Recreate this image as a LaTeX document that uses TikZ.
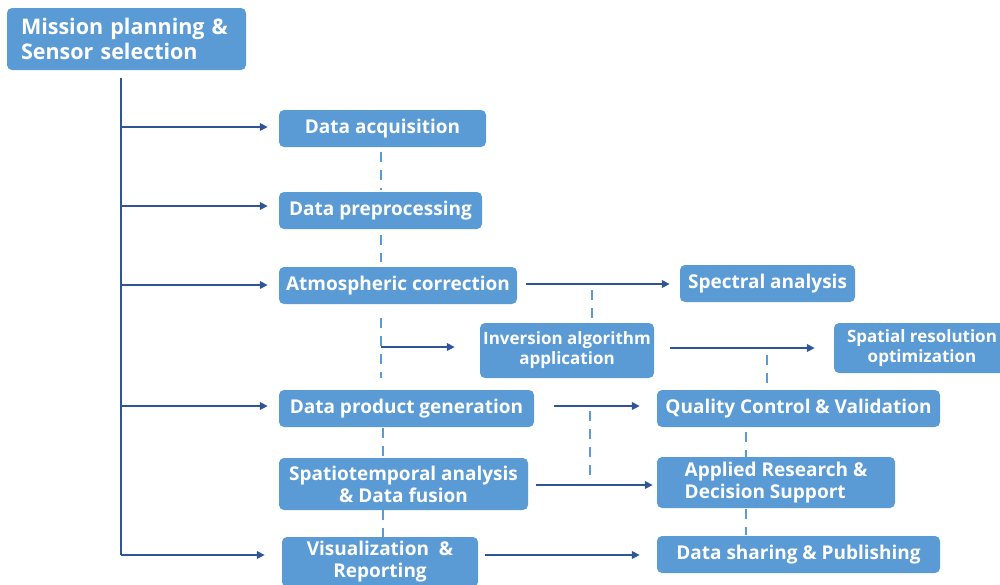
\documentclass[tikz,border=0pt]{standalone}
\usepackage{fontspec}
\setmainfont{Open Sans}
\usetikzlibrary{arrows.meta}
\definecolor{boxblue}{HTML}{5B9BD5}
\definecolor{linkblue}{HTML}{2F5597}
\tikzset{
  box/.style={fill=boxblue, rounded corners=5pt, text=white, inner sep=0pt, align=center,
    font=\bfseries\fontsize{19}{22}\selectfont},
  smallbox/.style={box, font=\bfseries\fontsize{17}{20}\selectfont},
  flow/.style={draw=linkblue, line width=2.2pt, -{Triangle[length=8pt,width=7.5pt]}},
  trunk/.style={draw=linkblue, line width=2.2pt},
  link/.style={draw=boxblue, line width=2.6pt, dash pattern=on 10pt off 8pt},
}
\begin{document}
\begin{tikzpicture}[x=1pt,y=-1pt]
\useasboundingbox (0,0) rectangle (1000,584);
\clip (0,0) rectangle (1000,584);

% ---- boxes ----
\node[box, minimum width=239pt, minimum height=62pt, text width=211pt, align=left,
      font=\bfseries\fontsize{21.5}{25}\selectfont] (plan) at (126.5,39)
      {\raisebox{-2pt}{Mission planning \&}\\\raisebox{-2pt}{Sensor selection}};

\node[box, minimum width=207pt, minimum height=37pt] (acq) at (382.5,128.5) {Data acquisition};
\node[box, minimum width=203pt, minimum height=37pt] (prep) at (380.5,210.5) {Data preprocessing};
\node[box, minimum width=238pt, minimum height=37pt] (atm) at (398,285.5) {Atmospheric correction};
\node[box, minimum width=255pt, minimum height=37pt] (prod) at (406.5,408.5) {Data product generation};
\node[box, minimum width=249pt, minimum height=52pt] (fuse) at (403.5,484) {Spatiotemporal analysis\\\& Data fusion};
\node[box, minimum width=196pt, minimum height=50pt] (vis) at (380,562) {Visualization \ \&\\Reporting};

\node[box, minimum width=175pt, minimum height=37pt] (spec) at (767.5,283.5) {Spectral analysis};
\node[smallbox, minimum width=174pt, minimum height=55pt] (inv) at (567,350.5) {Inversion algorithm\\application};
\node[smallbox, minimum width=176pt, minimum height=50pt] (res) at (922,348) {Spatial resolution\\optimization};
\node[box, minimum width=283pt, minimum height=37pt] (qc) at (798.5,408.5) {Quality Control \& Validation};
\node[box, minimum width=238pt, minimum height=51pt, align=left] (app) at (776,482.5) {Applied Research \&\\Decision Support};
\node[box, minimum width=283pt, minimum height=37pt] (share) at (798.5,554.5) {Data sharing \& Publishing};

% ---- main trunk from the planning box ----
\coordinate (top) at (121,78);
\coordinate (t1) at (121,127);
\coordinate (t2) at (121,206);
\coordinate (t3) at (121,285);
\coordinate (t4) at (121,406);
\coordinate (t5) at (121,555);
\draw[trunk] (top) -- (t5);
\draw[flow] (t1) -- ([xshift=-11pt]acq.west |- t1);
\draw[flow] (t2) -- ([xshift=-11pt]prep.west |- t2);
\draw[flow] (t3) -- ([xshift=-11pt]atm.west |- t3);
\draw[flow] (t4) -- ([xshift=-11pt]prod.west |- t4);
\draw[flow] (t5) -- ([xshift=-17pt]vis.west |- t5);

% ---- dashed links along the left column ----
\coordinate (c1) at (381,152);
\coordinate (c2) at (381,190);
\coordinate (c3) at (381,235);
\coordinate (c4) at (381,262);
\coordinate (c5) at (381,318);
\coordinate (c6) at (381,378);
\coordinate (c7) at (381,347);
\coordinate (c8) at (383,428);
\coordinate (c9) at (383,457);
\coordinate (c10) at (383,510);
\coordinate (c11) at (383,537);
\draw[link] (c1) -- (c2);
\draw[link] (c3) -- (c4);
\draw[link] (c5) -- (c6);
\draw[link] (c8) -- (c9);
\draw[link] (c10) -- (c11);
\draw[flow] (c7) -- ([xshift=-25pt]inv.west |- c7);

% ---- arrows to the right column ----
\draw[flow] ([xshift=9pt]atm.east |- 0,284) -- ([xshift=-10pt]spec.west |- 0,284);
\draw[flow] ([xshift=16pt]inv.east |- 0,348) -- ([xshift=-19pt]res.west |- 0,348);
\draw[flow] ([xshift=20pt]prod.east |- 0,406) -- ([xshift=-17pt]qc.west |- 0,406);
\draw[flow] ([xshift=8pt]fuse.east |- 0,485) -- ([xshift=-4pt]app.west |- 0,485);
\draw[flow] ([xshift=7pt]vis.east |- 0,555) -- ([xshift=-17pt]share.west |- 0,555);

% ---- dashed links in the middle and right columns ----
\coordinate (m1) at (592,290);
\coordinate (m2) at (592,320);
\coordinate (m3) at (590,411);
\coordinate (m4) at (590,477);
\coordinate (r1) at (767,355);
\coordinate (r2) at (767,386);
\coordinate (r3) at (746,432);
\coordinate (r4) at (746,458);
\coordinate (r5) at (746,509);
\coordinate (r6) at (746,535);
\draw[link] (m1) -- (m2);
\draw[link] (m3) -- (m4);
\draw[link] (r1) -- (r2);
\draw[link] (r3) -- (r4);
\draw[link] (r5) -- (r6);
\end{tikzpicture}
\end{document}
